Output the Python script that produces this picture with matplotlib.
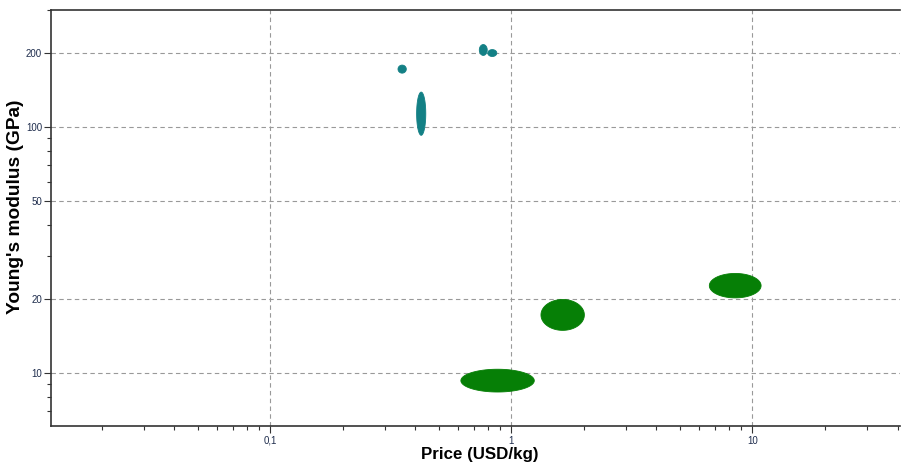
import matplotlib
matplotlib.use("Agg")
import matplotlib.pyplot as plt
import numpy as np

# material property ranges (price USD/kg, Young's modulus GPa)
teal_price_lo = [0.339, 0.405, 0.737, 0.799]
teal_price_hi = [0.367, 0.442, 0.795, 0.871]
teal_mod_lo = [166, 92.7, 196, 194]
teal_mod_hi = [179, 139, 217, 207]

green_price_lo = [0.618, 1.328, 6.63]
green_price_hi = [1.246, 2.01, 10.87]
green_mod_lo = [8.36, 14.9, 20.2]
green_mod_hi = [10.35, 19.9, 25.4]

xticks = [0.1, 1, 10]
xticklabels = ["0,1", "1", "10"]
yticks = [10, 20, 50, 100, 200]
yticklabels = ["10", "20", "50", "100", "200"]

plt.rcParams["font.family"] = ["Liberation Sans", "DejaVu Sans"]


def log_ellipse(ax, xlo, xhi, ylo, yhi, color):
    """ellipse that looks right on log-log axes"""
    t = np.linspace(0, 2 * np.pi, 120)
    cx = (np.log10(xlo) + np.log10(xhi)) / 2
    rx = (np.log10(xhi) - np.log10(xlo)) / 2
    cy = (np.log10(ylo) + np.log10(yhi)) / 2
    ry = (np.log10(yhi) - np.log10(ylo)) / 2
    ax.fill(10 ** (cx + rx * np.cos(t)), 10 ** (cy + ry * np.sin(t)),
            color=color, lw=0.6, ec=color, zorder=3)


fig = plt.figure(figsize=(9.01, 4.67), dpi=100)
ax = fig.add_axes([0.0566, 0.0878, 0.9424, 0.8908])
ax.set_xscale("log")
ax.set_yscale("log")
ax.set_xlim(0.01233, 41)
ax.set_ylim(6.08, 300)

for i in range(len(teal_price_lo)):
    log_ellipse(ax, teal_price_lo[i], teal_price_hi[i], teal_mod_lo[i], teal_mod_hi[i], "#138085")
for i in range(len(green_price_lo)):
    log_ellipse(ax, green_price_lo[i], green_price_hi[i], green_mod_lo[i], green_mod_hi[i], "#067F06")

ax.set_xticks(xticks)
ax.set_xticklabels(xticklabels)
ax.set_yticks(yticks)
ax.set_yticklabels(yticklabels)
xminor = [m * 10.0 ** e for e in range(-2, 2) for m in range(2, 10)]
ax.set_xticks([v for v in xminor if 0.01233 < v < 41], minor=True)
ax.set_yticks([7, 8, 9, 30, 40, 60, 70, 80, 90, 300], minor=True)
ax.set_yticklabels([], minor=True)
ax.set_xticklabels([], minor=True)

ax.tick_params(which="major", length=5, width=0.8, color="#333333",
               labelsize=7, labelcolor="#1f2d4d")
ax.tick_params(axis="x", which="major", pad=2)
ax.tick_params(axis="y", which="major", pad=1.5)
ax.tick_params(which="minor", length=3, width=0.8, color="#333333")
ax.grid(True, which="major", ls=(0, (4, 3)), color="#999999", lw=0.8)
ax.set_axisbelow(True)

ax.spines["right"].set_visible(False)
for s in ["left", "bottom", "top"]:
    ax.spines[s].set_color("#333333")
    ax.spines[s].set_linewidth(1.2)

ax.set_xlabel("Price (USD/kg)", fontsize=12.2, fontweight="bold")
ax.set_ylabel("Young's modulus (GPa)", fontsize=13.8, fontweight="bold")
ax.xaxis.set_label_coords(0.505, -0.05)
ax.yaxis.set_label_coords(-0.032, 0.526)

fig.savefig("out.png", dpi=100)
